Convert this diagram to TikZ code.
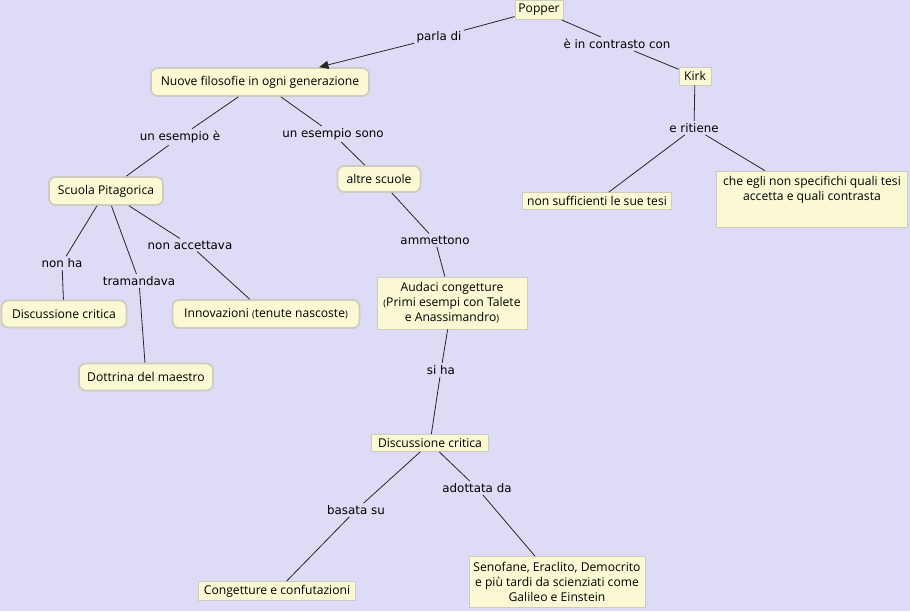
\documentclass[tikz,border=0pt]{standalone}
\usepackage{fontspec}
\setmainfont{Open Sans}
\newfontfamily\linkfamily{DejaVu Sans}
\usepackage{xcolor}
\usetikzlibrary{arrows.meta}

\definecolor{mapbg}{RGB}{221,219,245}
\definecolor{conceptfill}{RGB}{251,249,212}
\definecolor{conceptline}{RGB}{205,204,190}
\newcommand{\sparen}[1]{{\fontsize{7pt}{8pt}\selectfont #1}}

\begin{document}
\begin{tikzpicture}[
  x=0.75pt, y=-0.75pt,
  >=Triangle,
  % Concept styles
  concept/.style={
    draw=conceptline, line width=1.3pt, fill=conceptfill, rounded corners=5pt,
    font=\fontsize{9.1pt}{11.2pt}\selectfont, align=center, inner sep=1pt
  },
  plainbox/.style={
    draw=conceptline, line width=0.6pt, fill=conceptfill,
    font=\fontsize{9.1pt}{11.2pt}\selectfont, align=center, inner sep=1pt
  },
  linkword/.style={font=\linkfamily\fontsize{8.9pt}{10pt}\selectfont, inner sep=1.5pt},
  conn/.style={draw=black!85, line width=0.6pt}
]

% ── Canvas ───────────────────────────────────────────────────────────────────
\fill[mapbg] (0,0) rectangle (910,611);
\useasboundingbox (0,0) rectangle (910,611);

% ── Top concepts ─────────────────────────────────────────────────────────────
\node[plainbox, minimum width=36pt, minimum height=14.25pt] (popper) at (539,10) {Popper};
\node[concept, minimum width=163.5pt, minimum height=21pt] (nuove) at (260,82) {Nuove filosofie in ogni generazione};
\node[plainbox, minimum width=24pt, minimum height=13.5pt] (kirk) at (695,76) {Kirk};

% ── Kirk branch ──────────────────────────────────────────────────────────────
\node[plainbox, minimum width=111.75pt, minimum height=12.75pt] (nonsuff) at (597,201) {non sufficienti le sue tesi};
\node[plainbox, minimum width=143.25pt, minimum height=42pt] (cheegli) at (812,199)
  {che egli non specifichi quali tesi\\accetta e quali contrasta\\[5pt]~};

% ── Schools ──────────────────────────────────────────────────────────────────
\node[concept, minimum width=85.5pt, minimum height=21pt] (scuola) at (106,191) {Scuola Pitagorica};
\node[concept, minimum width=62.25pt, minimum height=19.5pt] (altre) at (379,179) {altre scuole};

\node[concept, minimum width=93.75pt, minimum height=20.25pt] (disc1) at (64,314) {Discussione critica};
\node[concept, minimum width=140.25pt, minimum height=21pt] (innov) at (266,314) {Innovazioni \sparen{(}tenute nascoste\sparen{)}};
\node[concept, minimum width=100.5pt, minimum height=20.25pt] (dottrina) at (146,377) {Dottrina del maestro};

% ── Conjectures branch ───────────────────────────────────────────────────────
\node[plainbox, minimum width=112.5pt, minimum height=39pt] (audaci) at (452,303)
  {Audaci congetture\\\sparen{(}Primi esempi con Talete\\e Anassimandro\sparen{)}};
\node[plainbox, minimum width=87.75pt, minimum height=12.75pt] (disc2) at (430,443) {Discussione critica};
\node[plainbox, minimum width=117.75pt, minimum height=14.25pt] (congett) at (277,591) {Congetture e confutazioni};
\node[plainbox, minimum width=132pt, minimum height=38.25pt] (senof) at (557,582)
  {Senofane, Eraclito, Democrito\\e più tardi da scienziati come\\Galileo e Einstein};

% ── Linking words ────────────────────────────────────────────────────────────
\node[linkword] (parla) at (439,37) {parla di};
\node[linkword] (contrasto) at (617,44) {è in contrasto con};
\node[linkword] (ritiene) at (694,128) {e ritiene};
\node[linkword] (esempioe) at (180,137) {un esempio è};
\node[linkword] (esempiosono) at (333,134) {un esempio sono};
\node[linkword] (nonha) at (62,263) {non ha};
\node[linkword] (tramanda) at (139,281) {tramandava};
\node[linkword] (nonacc) at (190,245) {non accettava};
\node[linkword] (ammett) at (435,240) {ammettono};
\node[linkword] (siha) at (441,370) {si ha};
\node[linkword] (basata) at (356,510) {basata su};
\node[linkword] (adottata) at (477,488) {adottata da};

% ── Connectors ───────────────────────────────────────────────────────────────
\draw[conn] (popper) -- (parla);
\draw[conn, -{Triangle[length=7pt,width=6pt]}] (parla) -- (nuove);
\draw[conn] (popper) -- (contrasto);
\draw[conn] (contrasto) -- (kirk);
\draw[conn] (kirk) -- (ritiene);
\draw[conn] (ritiene) -- (nonsuff);
\draw[conn] (ritiene) -- (cheegli);

\draw[conn] (nuove) -- (esempioe);
\draw[conn] (esempioe) -- (scuola);
\draw[conn] (nuove) -- (esempiosono);
\draw[conn] (esempiosono) -- (altre);

\draw[conn] (scuola) -- (nonha);
\draw[conn] (nonha) -- (disc1);
\draw[conn] (scuola) -- (tramanda);
\draw[conn] (tramanda) -- (dottrina);
\draw[conn] (scuola) -- (nonacc);
\draw[conn] (nonacc) -- (innov);

\draw[conn] (altre) -- (ammett);
\draw[conn] (ammett) -- (audaci);
\draw[conn] (audaci) -- (siha);
\draw[conn] (siha) -- (disc2);
\draw[conn] (disc2) -- (basata);
\draw[conn] (basata) -- (congett);
\draw[conn] (disc2) -- (adottata);
\draw[conn] (adottata) -- (senof);

\end{tikzpicture}
\end{document}
